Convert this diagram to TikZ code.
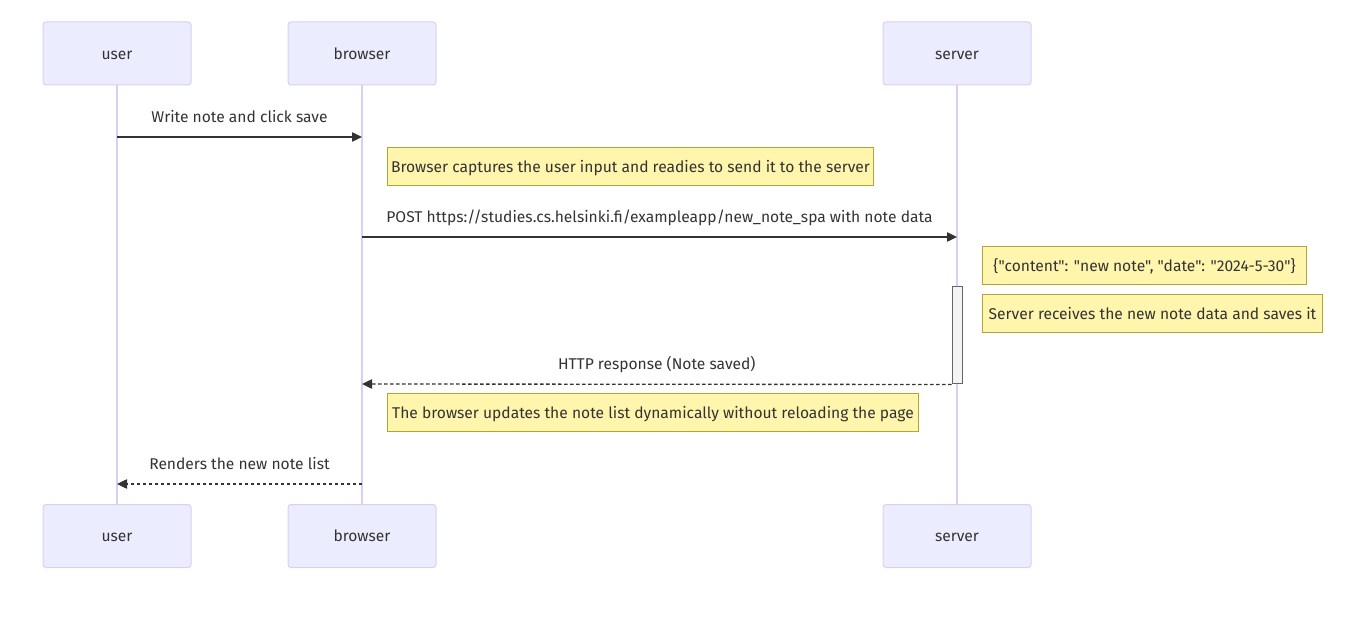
\documentclass[tikz,border=0pt]{standalone}
\usepackage{fontspec}
\setmainfont{Fira Sans}[Ligatures=TeXOff]
\usetikzlibrary{arrows.meta, positioning}
\definecolor{actfill}{HTML}{ECECFF}
\definecolor{actline}{HTML}{DACEF3}
\definecolor{notefill}{HTML}{FFF5AD}
\definecolor{noteline}{HTML}{AAAA33}
\definecolor{ink}{HTML}{333333}
\definecolor{barfill}{HTML}{F4F4F4}
\definecolor{barline}{HTML}{666666}

\begin{document}
\begin{tikzpicture}[x=0.75pt, y=-0.75pt,
    every node/.style={align=center, font=\fontsize{11.7}{13}\selectfont, text=ink,
                       text height=10pt, text depth=1.2pt},
    actor/.style={draw=actline, fill=actfill, rounded corners=2.25pt,
                  minimum width=111pt, minimum height=47.25pt, line width=0.75pt},
    note/.style={draw=noteline, fill=notefill, anchor=west, inner xsep=2pt,
                 minimum height=28.5pt, line width=0.75pt},
    bar/.style={draw=barline, fill=barfill, minimum width=7.5pt,
                minimum height=72.75pt, inner sep=0pt, line width=0.75pt},
    life/.style={draw=actline, line width=1.1pt},
    msg/.style={-{Triangle[length=7.5pt,width=7pt]}, draw=ink, line width=1pt},
    reply/.style={msg, dash pattern=on 2.5pt off 2pt},
    lbl/.style={above=6pt, midway}
  ]
    \useasboundingbox (0,0) rectangle (1356,630);

    % actors, top and bottom
    \node[actor] (ut) at (117,53.5)  {user};
    \node[actor] (bt) at (362,53.5)  {browser};
    \node[actor] (st) at (957,53.5)  {server};
    \node[actor] (ub) at (117,536)   {user};
    \node[actor] (bb) at (362,536)   {browser};
    \node[actor] (sb) at (957,536)   {server};

    % lifelines
    \draw[life] (ut.south) -- (ub.north);
    \draw[life] (bt.south) -- (bb.north);
    \draw[life] (st.south) -- (sb.north);

    \node[bar] (act) at (957,335.5) {};

    % message end points
    \coordinate (m1s) at (117,137);
    \coordinate (m1e) at (362,137);
    \coordinate (m2s) at (362,237);
    \coordinate (m2e) at (957,237);
    \coordinate (m3e) at (362,384);
    \coordinate (m4s) at (362,484);
    \coordinate (m4e) at (117,484);

    % notes
    \node[note, minimum width=364.5pt] (n1) at (387,166.5)
      {Browser captures the user input and readies to send it to the server};
    \node[note, minimum width=243pt] (n2) at (982,266)
      {\{"content": "new note", "date": "2024-5-30"\}};
    \node[note, minimum width=255pt] (n3) at (982,314)
      {Server receives the new note data and saves it};
    \node[note, minimum width=398.25pt] (n4) at (387,413)
      {The browser updates the note list dynamically without reloading the page};

    % messages
    \draw[msg] (m1s) -- node[lbl] {Write note and click save} (m1e);
    \draw[msg] (m2s) -- node[lbl]
      {POST https://studies.cs.helsinki.fi/exampleapp/new\_note\_spa with note data} (m2e);
    \draw[reply] (act.south west) -- node[lbl] {HTTP response (Note saved)} (m3e);
    \draw[reply] (m4s) -- node[lbl] {Renders the new note list} (m4e);
  \end{tikzpicture}
\end{document}
